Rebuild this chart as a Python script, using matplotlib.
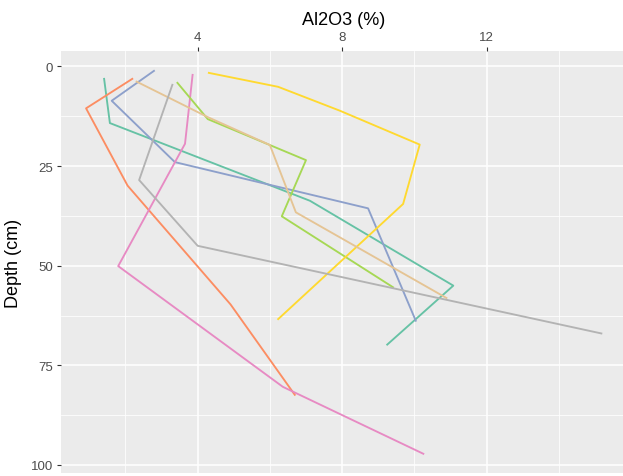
import matplotlib
matplotlib.use("Agg")
import matplotlib.pyplot as plt

plt.rcParams['font.family'] = ['Liberation Sans', 'DejaVu Sans']

# Al2O3 (%) profiles with depth (cm), one path per profile
teal_al = [1.41, 1.57, 7.11, 11.08, 9.25]
teal_depth = [3.1, 14.2, 33.7, 55.0, 69.8]

orange_al = [2.19, 0.91, 2.06, 4.91, 6.69]
orange_depth = [3.1, 10.5, 29.9, 59.7, 82.4]

blue_al = [2.79, 1.62, 3.37, 8.72, 10.04]
blue_depth = [1.1, 8.6, 24.0, 35.6, 63.8]

pink_al = [3.86, 3.65, 1.80, 6.36, 10.25]
pink_depth = [2.1, 19.4, 50.1, 80.4, 97.2]

green_al = [3.44, 4.28, 7.00, 6.33, 9.41]
green_depth = [4.1, 13.2, 23.5, 37.6, 55.4]

yellow_al = [4.31, 6.23, 7.94, 10.15, 9.69, 6.23]
yellow_depth = [1.6, 5.1, 11.1, 19.6, 34.5, 63.4]

tan_al = [2.31, 4.28, 6.00, 6.72, 10.89]
tan_depth = [3.8, 12.7, 19.7, 36.6, 58.1]

gray_al = [3.30, 2.38, 4.00, 15.18]
gray_depth = [4.6, 28.5, 45.0, 67.0]

profiles = [
    (teal_al, teal_depth, "#66C2A5"),
    (orange_al, orange_depth, "#FC8D62"),
    (blue_al, blue_depth, "#8DA0CB"),
    (pink_al, pink_depth, "#E78AC3"),
    (green_al, green_depth, "#A6D854"),
    (yellow_al, yellow_depth, "#FFD92F"),
    (tan_al, tan_depth, "#E5C494"),
    (gray_al, gray_depth, "#B3B3B3"),
]

x_ticks = [4, 8, 12]
x_minor = [2, 6, 10, 14]
y_ticks = [0, 25, 50, 75, 100]
y_minor = [12.5, 37.5, 62.5, 87.5]

W, H = 623, 477
fig = plt.figure(figsize=(W / 100, H / 100), dpi=100)
left, right, top, bottom = 61, 627, 52, 474.3
ax = fig.add_axes([left / W, 1 - bottom / H, (right - left) / W, (bottom - top) / H])
ax.set_facecolor("#EBEBEB")

for xs, ds, c in profiles:
    ax.plot(xs, ds, color=c, lw=1.35, solid_joinstyle="round", zorder=3)

ax.set_xlim(0.216, 15.89)
ax.set_ylim(102.1, -3.89)

ax.set_xticks(x_ticks)
ax.set_xticks(x_minor, minor=True)
ax.set_yticks(y_ticks)
ax.set_yticks(y_minor, minor=True)

ax.xaxis.set_ticks_position("top")
ax.xaxis.set_label_position("top")

ax.grid(which="major", color="white", lw=1.1, zorder=0)
ax.grid(which="minor", color="white", lw=0.55, zorder=0)
ax.set_axisbelow(True)

for s in ax.spines.values():
    s.set_visible(False)

ax.tick_params(which="major", length=3.0, width=0.8, color="#333333",
               labelsize=9.5, labelcolor="#4D4D4D", pad=2.5)
ax.tick_params(which="minor", length=0)

ax.set_xlabel("Al2O3 (%)", fontsize=13, color="black", va="center")
ax.xaxis.set_label_coords(0.5, 1 + (top - 20) / (bottom - top))
ax.set_ylabel("Depth (cm)", fontsize=13, color="black", va="center")
ax.yaxis.set_label_coords((14 - left) / (right - left), (bottom - 263) / (bottom - top))

fig.savefig("out.png", dpi=100)
